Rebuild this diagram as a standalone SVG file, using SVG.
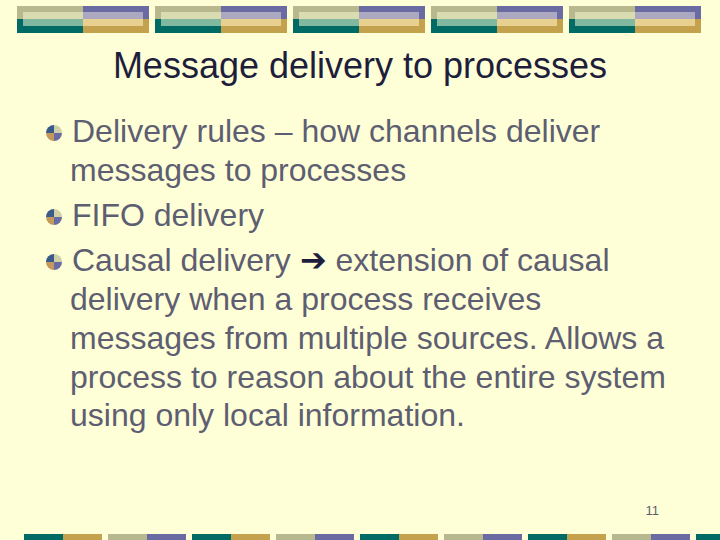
<svg xmlns="http://www.w3.org/2000/svg" width="720" height="540" viewBox="0 0 720 540">
<defs>
<style>
.t{font-family:"Liberation Sans",Arial,sans-serif;font-size:32px;fill:#5E5E72}
.h{font-family:"Liberation Sans",Arial,sans-serif;font-size:36px;fill:#1E1E3C}
</style>
<g id="blk">
<rect x="0" y="0" width="66" height="13" fill="#B8B88E"/><rect x="66" y="0" width="66" height="13" fill="#6B6BA3"/>
<rect x="0" y="13" width="66" height="14" fill="#006B64"/><rect x="66" y="13" width="66" height="14" fill="#C4A14C"/>
<rect x="6" y="6" width="60" height="7" fill="#D8DCB0"/><rect x="66" y="6" width="60" height="7" fill="#ABA8C0"/>
<rect x="6" y="13" width="60" height="7" fill="#80B8A0"/><rect x="66" y="13" width="60" height="7" fill="#E8D090"/>
</g>
<g id="bul">
<path d="M0 0V-8A8 8 0 0 0 -8 0Z" fill="#3A5A8A"/><path d="M0 0V-8A8 8 0 0 1 8 0Z" fill="#D0D0A8"/>
<path d="M0 0V8A8 8 0 0 1 -8 0Z" fill="#C49A5C"/><path d="M0 0V8A8 8 0 0 0 8 0Z" fill="#6B6BA3"/>
</g>
</defs>
<rect width="720" height="540" fill="#FFFFD7"/>
<g id="top">
<use href="#blk" x="17" y="6"/><use href="#blk" x="155" y="6"/><use href="#blk" x="293" y="6"/><use href="#blk" x="431" y="6"/><use href="#blk" x="569" y="6"/>
</g>
<g id="bottom">
<rect x="24" y="534" width="39" height="6" fill="#006B64"/><rect x="63" y="534" width="39" height="6" fill="#C4A14C"/>
<rect x="108" y="534" width="39" height="6" fill="#B8B88E"/><rect x="147" y="534" width="39" height="6" fill="#6B6BA3"/>
<rect x="192" y="534" width="39" height="6" fill="#006B64"/><rect x="231" y="534" width="39" height="6" fill="#C4A14C"/>
<rect x="276" y="534" width="39" height="6" fill="#B8B88E"/><rect x="315" y="534" width="39" height="6" fill="#6B6BA3"/>
<rect x="360" y="534" width="39" height="6" fill="#006B64"/><rect x="399" y="534" width="39" height="6" fill="#C4A14C"/>
<rect x="444" y="534" width="39" height="6" fill="#B8B88E"/><rect x="483" y="534" width="39" height="6" fill="#6B6BA3"/>
<rect x="528" y="534" width="39" height="6" fill="#006B64"/><rect x="567" y="534" width="39" height="6" fill="#C4A14C"/>
<rect x="612" y="534" width="39" height="6" fill="#B8B88E"/><rect x="651" y="534" width="39" height="6" fill="#6B6BA3"/>
<rect x="696" y="534" width="24" height="6" fill="#006B64"/>
</g>
<text class="h" x="360" y="78" text-anchor="middle">Message delivery to processes</text>
<use href="#bul" x="54" y="133"/><use href="#bul" x="54" y="217"/><use href="#bul" x="54" y="262"/>
<text class="t" x="72" y="142">Delivery rules – how channels deliver</text>
<text class="t" x="70" y="181">messages to processes</text>
<text class="t" x="72" y="226">FIFO delivery</text>
<text class="t" x="72" y="271">Causal delivery <tspan fill="#1E1E3C">➔</tspan> extension of causal</text>
<text class="t" x="70" y="310">delivery when a process receives</text>
<text class="t" x="70" y="349">messages from multiple sources. Allows a</text>
<text class="t" x="70" y="388">process to reason about the entire system</text>
<text class="t" x="70" y="426">using only local information.</text>
<text x="659" y="515" text-anchor="end" style="font-family:'Liberation Sans',Arial,sans-serif;font-size:13px;fill:#5E5E72">11</text>
</svg>
